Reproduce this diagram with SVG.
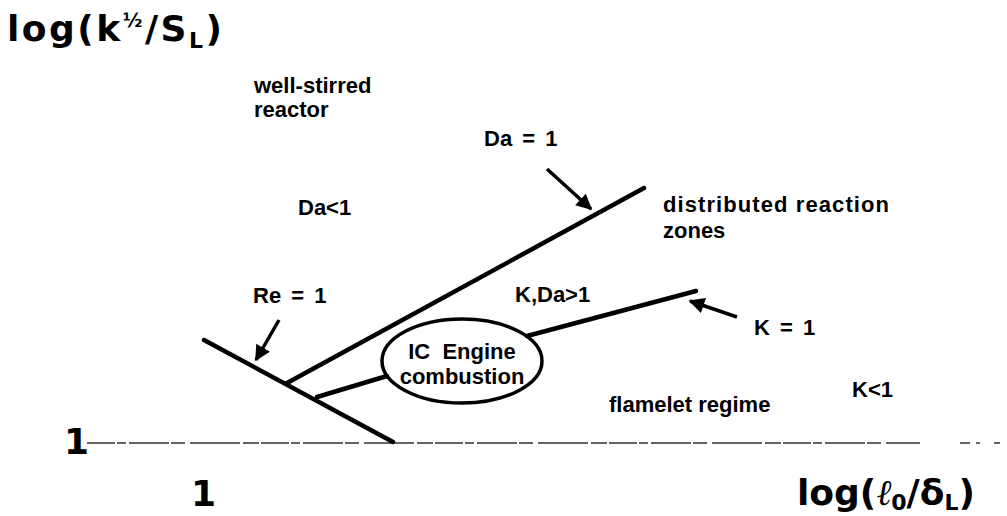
<svg xmlns="http://www.w3.org/2000/svg" width="1007" height="516" viewBox="0 0 1007 516">
<style>
.t{font-family:"Liberation Sans",Arial,sans-serif;font-weight:bold;font-size:22px;fill:#000}
.big{font-family:"DejaVu Sans","Liberation Sans",sans-serif;font-weight:bold;font-size:36px;fill:#000}
.ln{stroke:#000;stroke-width:4.5;fill:none;stroke-linecap:round}
.ar{stroke:#000;stroke-width:3.5;fill:none}
</style>
<defs>
<marker id="ah" viewBox="0 0 10 10" refX="9" refY="5" markerWidth="5.5" markerHeight="4.5" orient="auto" markerUnits="strokeWidth">
<path d="M0,0 L10,5 L0,10 z" fill="#000"/>
</marker>
</defs>
<rect width="1007" height="516" fill="#fff"/>
<g id="axes">
<line x1="87" y1="443" x2="920" y2="443" stroke="#333" stroke-width="1.4" stroke-dasharray="28,2,9,3,40,2,14,5,50,3,16,2"/>
<line x1="960" y1="443" x2="1000" y2="443" stroke="#333" stroke-width="1.4" stroke-dasharray="10,6,4,14,8,4"/>
<text class="big" x="7" y="41" letter-spacing="2.5">log(k<tspan font-size="19" dy="-14">½</tspan><tspan dy="14">/S</tspan><tspan font-size="22" dy="7">L</tspan><tspan dy="-7">)</tspan></text>
<text class="big" x="64" y="454" font-size="29">1</text>
<text class="big" x="191" y="506" font-size="29">1</text>
<text class="big" x="797" y="505" font-size="34"><tspan>log(</tspan><tspan font-family="Liberation Serif" font-style="italic" font-weight="normal">ℓ</tspan><tspan font-size="22" dy="5">0</tspan><tspan dy="-5">/δ</tspan><tspan font-size="22" dy="5">L</tspan><tspan dy="-5">)</tspan></text>
</g>
<g id="connectors">
<line class="ln" x1="204" y1="340" x2="393" y2="442"/>
<line class="ln" x1="287" y1="383" x2="644" y2="188"/>
<line class="ln" x1="317" y1="397" x2="387" y2="376"/>
<line class="ln" x1="527" y1="336" x2="696" y2="291"/>
<line class="ar" x1="547" y1="169" x2="591" y2="209" marker-end="url(#ah)"/>
<line class="ar" x1="737" y1="317" x2="690" y2="301" marker-end="url(#ah)"/>
<line class="ar" x1="279" y1="320" x2="256" y2="360" marker-end="url(#ah)"/>
</g>
<g id="engine">
<ellipse cx="462" cy="361" rx="80" ry="42" fill="none" stroke="#000" stroke-width="3.5"/>
<text class="t" x="462" y="359" font-size="20" text-anchor="middle">IC&#160; Engine</text>
<text class="t" x="462" y="384" font-size="20" text-anchor="middle">combustion</text>
</g>
<g id="labels">
<text class="t" x="254" y="93">well-stirred</text>
<text class="t" x="254" y="117">reactor</text>
<text class="t" x="484" y="146" word-spacing="4">Da = 1</text>
<text class="t" x="298" y="215">Da&lt;1</text>
<text class="t" x="663" y="212" textLength="226" lengthAdjust="spacing">distributed reaction</text>
<text class="t" x="663" y="238">zones</text>
<text class="t" x="253" y="303" word-spacing="4">Re = 1</text>
<text class="t" x="515" y="302">K,Da&gt;1</text>
<text class="t" x="754" y="335" word-spacing="4">K = 1</text>
<text class="t" x="609" y="412">flamelet regime</text>
<text class="t" x="852" y="397">K&lt;1</text>
</g>
</svg>
